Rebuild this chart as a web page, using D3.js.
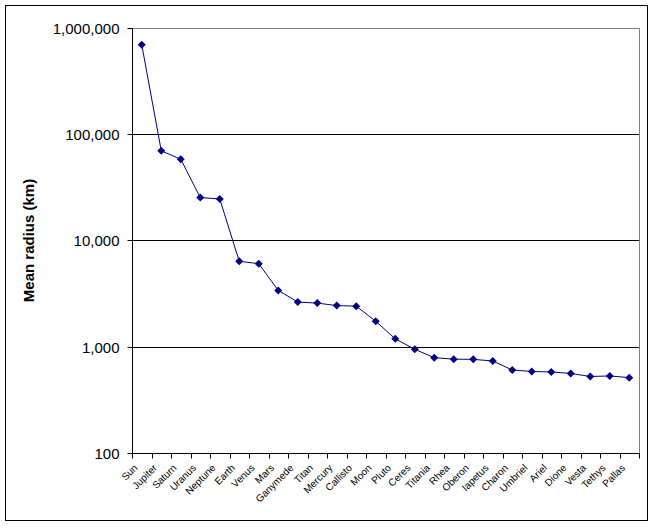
<!DOCTYPE html>
<html><head><meta charset="utf-8">
<script src="https://cdn.jsdelivr.net/npm/d3@7"></script>
<style>body{margin:0;background:#fff}svg{display:block}</style>
</head><body>
<svg id="c" width="655" height="528"></svg>
<script>
const categories = ["Sun","Jupiter","Saturn","Uranus","Neptune","Earth","Venus","Mars","Ganymede","Titan","Mercury","Callisto","Moon","Pluto","Ceres","Titania","Rhea","Oberon","Iapetus","Charon","Umbriel","Ariel","Dione","Vesta","Tethys","Pallas"];
const radius = [696000,69911,58232,25362,24622,6371,6052,3390,2634,2575,2440,2410,1737,1188,946,789,764,761,735,604,585,579,561,525,531,512];
const yTicks = [100,1000,10000,100000,1000000];

const svg = d3.select("#c");
const L=132, R=639, T=28, B=453;
svg.append("rect").attr("x",5.5).attr("y",5.5).attr("width",642).attr("height",515)
  .attr("fill","#fff").attr("stroke","#000");

const x = d3.scaleBand().domain(categories).range([L,R]).paddingInner(0).paddingOuter(0);
const y = d3.scaleLog().domain([100,1000000]).range([B,T]);

// plot area border (gray)
svg.append("path").attr("d",`M${L},${T+0.5}H${R+0.5}V${B}`).attr("fill","none").attr("stroke","#808080");

// gridlines
svg.append("g").selectAll("line").data(yTicks.filter(v=>v>100 && v<1000000)).join("line")
  .attr("x1",L).attr("x2",R).attr("y1",d=>Math.round(y(d))+0.5).attr("y2",d=>Math.round(y(d))+0.5)
  .attr("stroke","#000");

// y axis
const yAxis = d3.axisLeft(y).tickValues(yTicks).tickFormat(d3.format(",")).tickSizeOuter(0).tickSize(5).tickPadding(8);
const gy = svg.append("g").attr("transform",`translate(${L+0.5},0)`).call(yAxis);
gy.select(".domain").attr("d",`M0,${T}V${B+0.5}`).attr("stroke","#000");
gy.selectAll(".tick line").attr("stroke","#000");
gy.selectAll(".tick").attr("transform",d=>`translate(0,${Math.round(y(d))+0.5})`);
gy.selectAll("text").attr("font-family","Liberation Sans, Arial, sans-serif").attr("font-size","15px").attr("fill","#000").attr("dy","0.36em");

// x axis
const gx = svg.append("g").attr("transform",`translate(0,${B+0.5})`);
gx.append("line").attr("x1",L).attr("x2",R+1).attr("stroke","#000");
const bounds = categories.map(c=>x(c)).concat([R]);
gx.selectAll("line.t").data(bounds).join("line").attr("class","t")
  .attr("x1",d=>Math.round(d)+0.5).attr("x2",d=>Math.round(d)+0.5).attr("y1",0).attr("y2",5).attr("stroke","#000");
gx.selectAll("text").data(categories).join("text")
  .attr("transform",d=>`translate(${x(d)+x.bandwidth()/2-6},${12.5}) rotate(-45)`)
  .attr("text-anchor","end").attr("font-family","Liberation Sans, Arial, sans-serif").attr("font-size","10px")
  .attr("dy","0.35em").text(d=>d);

// y label
svg.append("text").attr("transform",`translate(34,${(T+B)/2}) rotate(-90)`)
  .attr("text-anchor","middle").attr("font-family","Liberation Sans, Arial, sans-serif")
  .attr("font-size","15px").attr("font-weight","bold").text("Mean radius (km)");

// line
const pts = categories.map((c,i)=>[x(c)+x.bandwidth()/2, y(radius[i])]);
svg.append("path").attr("d",d3.line()(pts)).attr("fill","none").attr("stroke","#000080").attr("stroke-width",1);
const s = 4;
svg.append("g").selectAll("path").data(pts).join("path")
  .attr("transform",d=>`translate(${d[0]},${d[1]})`)
  .attr("d",`M0,${-s}L${s},0L0,${s}L${-s},0Z`)
  .attr("fill","#000080");
</script>
</body></html>
